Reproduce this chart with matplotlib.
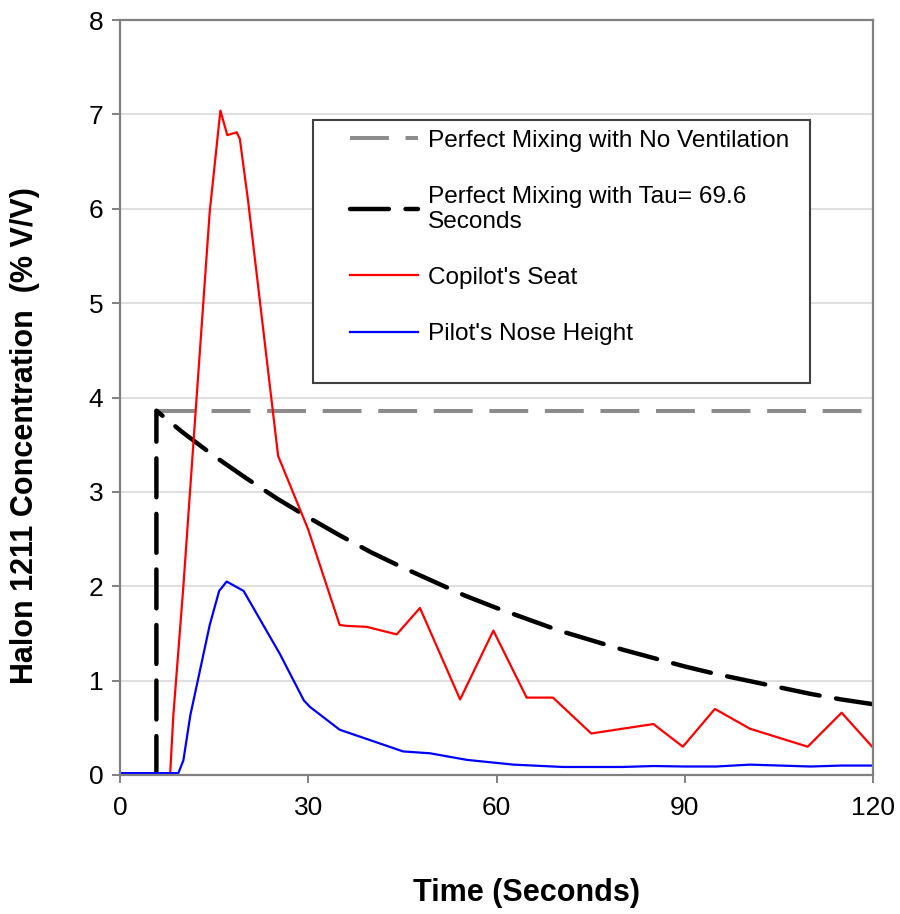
import matplotlib
matplotlib.use("Agg")
import matplotlib.pyplot as plt
from matplotlib.patches import Rectangle

plt.rcParams['font.family'] = ['Liberation Sans', 'DejaVu Sans']
plt.rcParams['lines.scale_dashes'] = False

# ---- data ----
no_vent_t = [5.8, 120]
no_vent_v = [3.86, 3.86]

tau_t = [5.8, 5.8, 10, 15, 20, 25, 30, 35, 40, 45, 50, 55, 60, 65, 70, 75, 80,
         85, 90, 95, 100, 105, 110, 115, 120]
tau_v = [0.0, 3.86, 3.63, 3.38, 3.15, 2.93, 2.73, 2.54, 2.36, 2.20, 2.05, 1.90,
         1.77, 1.65, 1.53, 1.43, 1.33, 1.24, 1.15, 1.07, 1.00, 0.93, 0.86, 0.80, 0.75]

copilot_t = [0, 8.0, 8.5, 10.1, 12.2, 14.3, 16.0, 17.1, 18.6, 19.1, 20.4, 25.2, 30.0,
             35.0, 36.1, 39.3, 44.1, 47.8, 54.2, 59.5, 64.8, 69.0, 75.1, 85.0,
             89.7, 94.8, 100.4, 109.6, 115.0, 120]
copilot_v = [0.02, 0.02, 0.63, 2.0, 3.99, 5.97, 7.04, 6.78, 6.81, 6.74, 6.09, 3.38, 2.60,
             1.59, 1.58, 1.57, 1.49, 1.77, 0.80, 1.53, 0.82, 0.82, 0.44, 0.54,
             0.30, 0.70, 0.49, 0.30, 0.66, 0.29]

pilot_t = [0, 9.3, 10.1, 11.2, 14.3, 15.8, 17.0, 19.7, 25.5, 29.3, 30.3, 35.0,
           45.1, 49.4, 55.3, 62.7, 70.6, 80, 85, 90, 95, 100.4, 110, 115, 120]
pilot_v = [0.02, 0.02, 0.155, 0.63, 1.59, 1.95, 2.05, 1.95, 1.28, 0.79, 0.72, 0.48,
           0.25, 0.23, 0.16, 0.11, 0.085, 0.085, 0.095, 0.09, 0.09, 0.11, 0.09, 0.10, 0.10]

x_ticks = [0, 30, 60, 90, 120]
y_ticks = [0, 1, 2, 3, 4, 5, 6, 7, 8]

labels = ["Perfect Mixing with No Ventilation",
          "Perfect Mixing with Tau= 69.6\nSeconds",
          "Copilot's Seat",
          "Pilot's Nose Height"]

# ---- figure ----
fig = plt.figure(figsize=(9, 9.14), dpi=100)
ax = fig.add_axes([120 / 900, 139 / 914, 753 / 900, 755 / 914])

spine_col = '#808080'
for s in ax.spines.values():
    s.set_color(spine_col)
    s.set_linewidth(1.6)

ax.set_xlim(0, 120)
ax.set_ylim(0, 8)
ax.set_xticks(x_ticks)
ax.set_yticks(y_ticks)
ax.grid(axis='y', color='#d9d9d9', linewidth=1.2)
ax.set_axisbelow(True)
ax.tick_params(axis='both', direction='out', length=6, width=1.4, color=spine_col,
               labelsize=19, labelcolor='black')
ax.tick_params(axis='x', pad=9)
ax.tick_params(axis='y', pad=6)

l_gray, = ax.plot(no_vent_t, no_vent_v, color='#8c8c8c', lw=2.9,
                  dashes=(28, 12), solid_capstyle='butt', dash_capstyle='butt')
l_black, = ax.plot(tau_t, tau_v, color='black', lw=3.2, dashes=(28, 12),
                   dash_capstyle='round', dash_joinstyle='round')
l_red, = ax.plot(copilot_t, copilot_v, color='#ff0000', lw=1.6,
                 solid_joinstyle='round')
l_blue, = ax.plot(pilot_t, pilot_v, color='#0000ff', lw=1.6,
                  solid_joinstyle='round')

ax.set_xlabel("Time (Seconds)", fontsize=22, fontweight='bold')
ax.xaxis.set_label_coords(0.54, -0.137)
ax.xaxis.label.set_va('top')
ax.set_ylabel("Halon 1211 Concentration  (% V/V)", fontsize=22, fontweight='bold')
ax.yaxis.set_label_coords(-0.106, 0.449)

# legend frame
frame = Rectangle((0.256, 0.519), 0.660, 0.349, transform=ax.transAxes,
                  facecolor='white', edgecolor='#404040', lw=1.5, zorder=4.5)
ax.add_patch(frame)
leg = ax.legend([l_gray, l_black, l_red, l_blue], labels, loc='upper left',
                bbox_to_anchor=(0.3055, 0.855), frameon=False, fontsize=17.6,
                handlelength=2.8, handletextpad=0.4, labelspacing=1.39,
                borderpad=0, borderaxespad=0)
leg.set_zorder(5)

fig.savefig("out.png", dpi=100)
